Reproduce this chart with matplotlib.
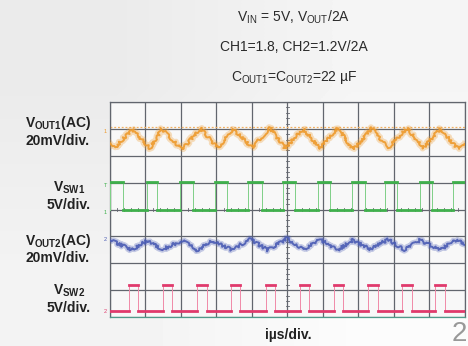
import numpy as np
import matplotlib

matplotlib.use("Agg")
import matplotlib.pyplot as plt

plt.rcParams["font.family"] = ["Liberation Sans", "DejaVu Sans"]
plt.rcParams["mathtext.fontset"] = "custom"
plt.rcParams["mathtext.rm"] = "Liberation Sans"
plt.rcParams["mathtext.bf"] = "Liberation Sans:bold"

# --- trace data, in scope divisions (x: 0-10, y: 0-8) ---
# VOUT1 ripple (orange): turning points
vout1_t = [0.0, 0.14, 0.62, 1.13, 1.46, 2.03, 2.54, 3.04, 3.46, 4.00, 4.51,
           4.93, 5.44, 5.92, 6.42, 6.85, 7.38, 7.83, 8.37, 8.82, 9.30, 9.80, 10.0]
vout1_v = [6.47, 6.30, 6.98, 6.28, 7.00, 6.22, 7.03, 6.28, 7.00, 6.30, 7.03,
           6.28, 7.00, 6.28, 7.03, 6.22, 7.03, 6.28, 7.03, 6.28, 7.00, 6.26, 6.40]
vout1_cursor = 7.08

# VSW1 (green) edges
sw1_rise = [0.0, 1.04, 1.97, 2.96, 3.89, 4.87, 5.86, 6.82, 7.75, 8.73, 9.66]
sw1_fall = [0.37, 1.32, 2.34, 3.30, 4.28, 5.21, 6.20, 7.18, 8.08, 9.07, 10.0]
sw1_high, sw1_low = 5.02, 3.97

# VOUT2 ripple (blue)
vout2_t = [0.0, 0.62, 1.04, 1.49, 2.06, 2.45, 2.90, 3.44, 3.94, 4.45, 4.99,
           5.44, 5.92, 6.42, 6.85, 7.32, 7.83, 8.31, 8.73, 9.30, 9.72, 10.0]
vout2_v = [2.86, 2.50, 2.84, 2.52, 2.86, 2.48, 2.84, 2.50, 2.90, 2.49, 2.92,
           2.50, 2.88, 2.50, 2.86, 2.52, 2.88, 2.50, 2.86, 2.50, 2.84, 2.74]

# VSW2 (red) edges
sw2_rise = [0.54, 1.49, 2.45, 3.41, 4.39, 5.35, 6.31, 7.27, 8.23, 9.15]
sw2_fall = [0.79, 1.75, 2.73, 3.66, 4.65, 5.61, 6.56, 7.55, 8.51, 9.44]
sw2_high, sw2_low = 1.20, 0.22

title_lines = [r"$\mathrm{V_{IN}}$ = 5V, $\mathrm{V_{OUT}}$/2A",
               "CH1=1.8, CH2=1.2V/2A",
               r"$\mathrm{C_{OUT1}}$=$\mathrm{C_{OUT2}}$=22 µF"]
row_labels = [r"$\mathbf{V_{OUT1}}$(AC)" + "\n20mV/div.",
              r"$\mathbf{V_{SW1}}$" + "\n5V/div.",
              r"$\mathbf{V_{OUT2}}$(AC)" + "\n20mV/div.",
              r"$\mathbf{V_{SW2}}$" + "\n5V/div."]
row_label_y = [0.621, 0.435, 0.282, 0.136]


def square_wave(rise, fall, high, low):
    xs, ys = [0.0], [low if rise[0] > 0 else high]
    for r, f in zip(rise, fall):
        xs += [r, r, f, f]
        ys += [low, high, high, low]
    xs.append(10.0)
    ys.append(ys[-1])
    return xs, ys


fig = plt.figure(figsize=(4.68, 3.46), dpi=100)

# light grey slide background
bg = fig.add_axes([0, 0, 1, 1])
bg.imshow([[0.92, 0.96], [0.95, 0.985]], cmap="gray", vmin=0, vmax=1,
          interpolation="bilinear", aspect="auto", extent=[0, 1, 0, 1])
bg.set_axis_off()

ax = fig.add_axes([0.235, 0.0838, 0.7585, 0.6214])
ax.set_facecolor("#f8f8f8")
ax.set_xlim(0, 10)
ax.set_ylim(0, 8)

# scope graticule
grid_c = "#62666e"
for x in range(11):
    ax.axvline(x, color=grid_c, lw=0.9, zorder=1)
for y in range(9):
    ax.axhline(y, color=grid_c, lw=0.9, zorder=1)
for k in range(50):
    ax.plot([k * 0.2, k * 0.2], [3.95, 4.05], color=grid_c, lw=0.6, zorder=1)
for k in range(40):
    ax.plot([4.95, 5.05], [k * 0.2, k * 0.2], color=grid_c, lw=0.6, zorder=1)
ax.set_xticks([])
ax.set_yticks([])
for s in ax.spines.values():
    s.set_color(grid_c)
    s.set_linewidth(0.9)
ax.spines["bottom"].set_color("#4f9a8a")

# VOUT1
ax.axhline(vout1_cursor, color="#f2b060", lw=0.9, ls=(0, (1.5, 1.5)), zorder=2)
for lw, a in [(4.2, 0.3), (1.4, 0.9)]:
    ln, = ax.plot(vout1_t, vout1_v, color="#ee9a2c", lw=lw, alpha=a, zorder=3)
    ln.set_sketch_params(scale=1.4, length=3, randomness=30)

# VSW1
gx, gy = square_wave(sw1_rise, sw1_fall, sw1_high, sw1_low)
ax.plot(gx, gy, color="#7fcf87", lw=0.7, zorder=3)
for r, f in zip(sw1_rise, sw1_fall):
    ax.plot([r, f], [sw1_high, sw1_high], color="#3fb04c", lw=2.0, zorder=4)
for f, r in zip(sw1_fall, sw1_rise[1:] + [10.0]):
    ax.plot([f, r], [sw1_low, sw1_low], color="#3fb04c", lw=2.0, zorder=4)

# VOUT2
for lw, a in [(3.8, 0.3), (1.4, 0.9)]:
    ln, = ax.plot(vout2_t, vout2_v, color="#4a5cb4", lw=lw, alpha=a, zorder=3)
    ln.set_sketch_params(scale=1.6, length=2.5, randomness=30)

# VSW2
rx, ry = square_wave(sw2_rise, sw2_fall, sw2_high, sw2_low)
ax.plot(rx, ry, color="#f08aa8", lw=0.7, zorder=3)
for r, f in zip(sw2_rise, sw2_fall):
    ax.plot([r, f], [sw2_high, sw2_high], color="#e03a6c", lw=2.0, zorder=4)
for f, r in zip([0.0] + sw2_fall, sw2_rise + [10.0]):
    ax.plot([f, r], [sw2_low, sw2_low], color="#e03a6c", lw=2.0, zorder=4)

# channel markers at the left edge
for y, txt, c in [(6.9, "1", "#ee9a2c"), (4.9, "T", "#3fb04c"), (3.9, "1", "#3fb04c"),
                  (2.9, "2", "#4a5cb4"), (0.2, "2", "#e03a6c")]:
    ax.text(-0.08, y, txt, color=c, fontsize=4, ha="right", va="center", clip_on=False)

# header text
for i, line in enumerate(title_lines):
    fig.text(0.628, 0.951 - i * 0.087, line, ha="center", va="center",
             fontsize=10, color="#2a2a2a")

for lab, y in zip(row_labels, row_label_y):
    fig.text(0.194, y, lab, ha="right", va="center", multialignment="center",
             fontsize=10, fontweight="bold", color="#222222", linespacing=1.15)

fig.text(0.615, 0.032, "iµs/div.", ha="center", va="center",
         fontsize=10, fontweight="bold", color="#222222")
fig.text(0.997, 0.035, "2", ha="right", va="center", fontsize=20, color="#999999")

fig.savefig("out.png", dpi=100)
plt.close(fig)
